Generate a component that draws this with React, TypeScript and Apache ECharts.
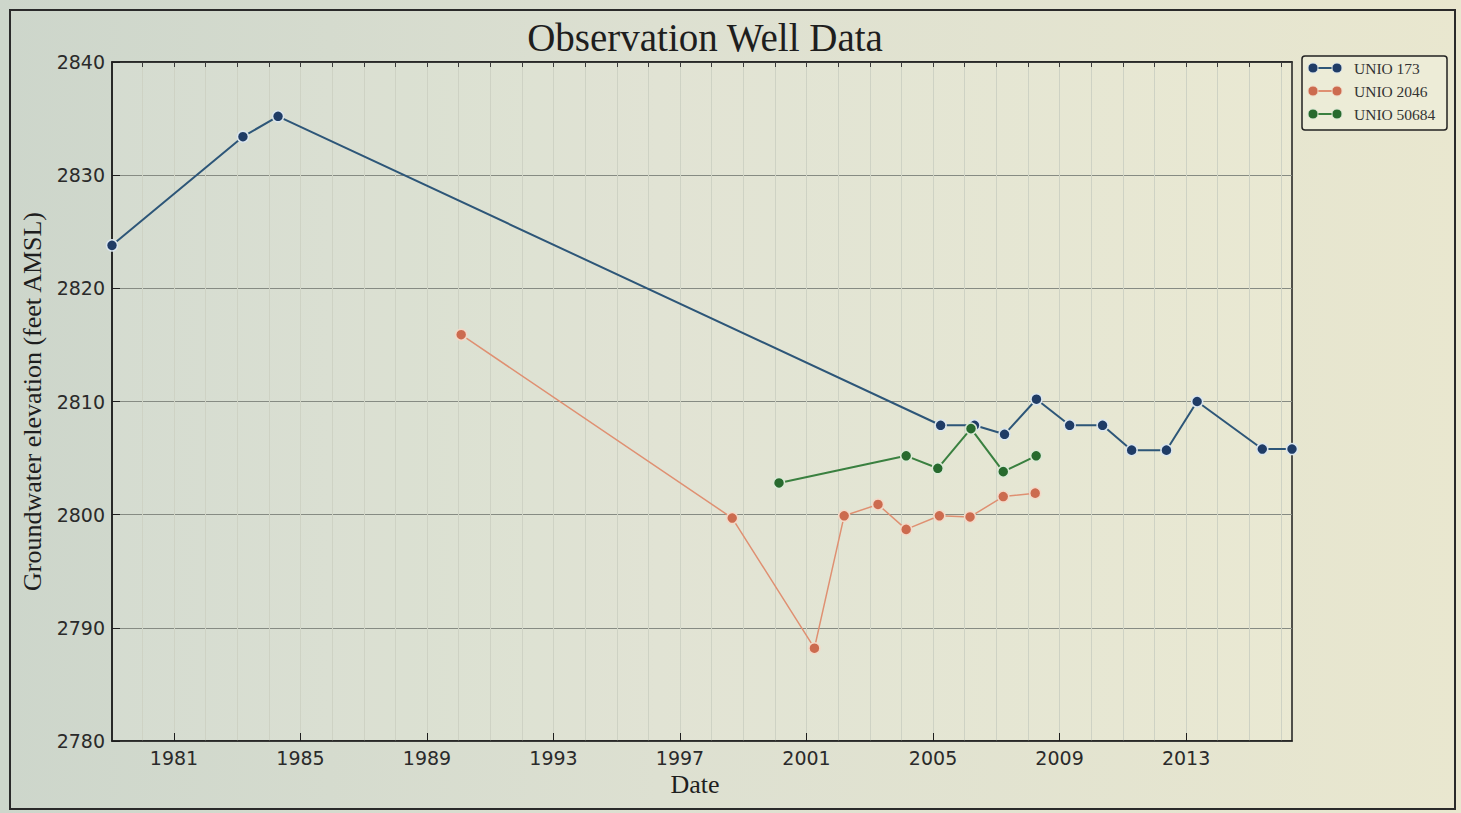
import React, { useEffect, useRef } from "react";
import * as echarts from "echarts";

// Decimal years
const unio173Dates = [1979.04, 1983.18, 1984.29, 2005.24, 2006.31, 2007.26, 2008.27, 2009.32, 2010.36, 2011.28, 2012.38, 2013.35, 2015.41, 2016.35];
const unio173Values = [2823.8, 2833.4, 2835.2, 2807.9, 2807.9, 2807.1, 2810.2, 2807.9, 2807.9, 2805.7, 2805.7, 2810.0, 2805.8, 2805.8];

const unio2046Dates = [1990.08, 1998.65, 2001.25, 2002.19, 2003.26, 2004.15, 2005.2, 2006.17, 2007.22, 2008.23];
const unio2046Values = [2815.9, 2799.7, 2788.2, 2799.9, 2800.9, 2798.7, 2799.9, 2799.8, 2801.6, 2801.9];

const unio50684Dates = [2000.13, 2004.15, 2005.15, 2006.2, 2007.22, 2008.26];
const unio50684Values = [2802.8, 2805.2, 2804.1, 2807.6, 2803.8, 2805.2];

const majorYearTicks = [1981, 1985, 1989, 1993, 1997, 2001, 2005, 2009, 2013];
const minorYearTicks = [1980, 1981, 1982, 1983, 1984, 1985, 1986, 1987, 1988, 1989, 1990, 1991, 1992, 1993, 1994, 1995, 1996, 1997, 1998, 1999, 2000, 2001, 2002, 2003, 2004, 2005, 2006, 2007, 2008, 2009, 2010, 2011, 2012, 2013, 2014, 2015, 2016];

const seriesNames = ["UNIO 173", "UNIO 2046", "UNIO 50684"];

const SERIF = "'Liberation Serif', 'DejaVu Serif', serif";
const SANS = "'DejaVu Sans', sans-serif";

function pairs(xs: number[], ys: number[]) {
  return xs.map((x, i) => [x, ys[i]]);
}

export default function App() {
  const ref = useRef<HTMLDivElement>(null);

  useEffect(() => {
    if (!ref.current) return;
    const chart = echarts.init(ref.current, null, { renderer: "svg" });

    const styles = [
      { line: "#2d5678", width: 2, fill: "#1f3c66", border: "#dbe6ee" },
      { line: "#df9072", width: 1.5, fill: "#cc6b4f", border: "#f3d9c8" },
      { line: "#3a8040", width: 2, fill: "#276a2e", border: "#dbe9d6" },
    ];
    const dataSets = [
      pairs(unio173Dates, unio173Values),
      pairs(unio2046Dates, unio2046Values),
      pairs(unio50684Dates, unio50684Values),
    ];

    const legendX = 1302;
    const legendY = 56;
    const legendItems: any[] = [
      {
        type: "rect",
        shape: { x: legendX, y: legendY, width: 145, height: 74, r: 3 },
        style: { fill: "rgba(245,245,230,0.35)", stroke: "#222", lineWidth: 1.5 },
        z: 100,
      },
    ];
    seriesNames.forEach((name, i) => {
      const cy = legendY + 12 + i * 23;
      const s = styles[i];
      legendItems.push(
        { type: "line", shape: { x1: 1313, y1: cy, x2: 1337, y2: cy }, style: { stroke: s.line, lineWidth: 2 }, z: 101 },
        { type: "circle", shape: { cx: 1313, cy, r: 5 }, style: { fill: s.fill, stroke: s.border, lineWidth: 1 }, z: 102 },
        { type: "circle", shape: { cx: 1337, cy, r: 5 }, style: { fill: s.fill, stroke: s.border, lineWidth: 1 }, z: 102 },
        {
          type: "text",
          x: 1354,
          y: cy,
          style: { text: name, fontFamily: SERIF, fontSize: 15.5, fill: "#333", verticalAlign: "middle", align: "left" },
          z: 102,
        }
      );
    });

    const option: any = {
      animation: false,
      title: {
        text: "Observation Well Data",
        left: 700,
        top: 13,
        textAlign: "center",
        textStyle: { fontFamily: SERIF, fontSize: 39, fontWeight: "normal", color: "#1e1e1e" },
      },
      grid: {
        left: 112,
        right: 169,
        top: 62,
        bottom: 72,
        show: true,
        backgroundColor: "rgba(255,255,240,0.12)",
        borderColor: "#1e1e1e",
        borderWidth: 1.5,
      },
      xAxis: [
        {
          type: "value",
          min: 1979.04,
          max: 2016.35,
          position: "bottom",
          name: "Date",
          nameLocation: "middle",
          nameGap: 30,
          nameTextStyle: { fontFamily: SERIF, fontSize: 26, color: "#1e1e1e", padding: [0, 14, 0, 0] },
          axisLine: { show: true, lineStyle: { color: "#1e1e1e", width: 1.5 } },
          axisTick: { show: true, inside: true, length: 8, customValues: majorYearTicks, lineStyle: { color: "#1e1e1e" } },
          axisLabel: {
            customValues: majorYearTicks,
            margin: 7,
            fontFamily: SANS,
            fontSize: 19,
            color: "#2a2a2a",
            formatter: (v: number) => String(Math.round(v)),
          },
          splitLine: { show: true, lineStyle: { color: "#868b83", width: 1 } },
        },
        {
          type: "value",
          min: 1979.04,
          max: 2016.35,
          position: "top",
          axisLine: { show: true, lineStyle: { color: "#1e1e1e", width: 1.5 } },
          axisTick: { show: true, inside: true, length: 5, customValues: minorYearTicks, lineStyle: { color: "#3a3a3a" } },
          axisLabel: { show: false, customValues: minorYearTicks },
          splitLine: { show: true, lineStyle: { color: "#ced2c4", width: 1 } },
        },
      ],
      yAxis: {
        type: "value",
        min: 2780,
        max: 2840,
        interval: 10,
        name: "Groundwater elevation (feet AMSL)",
        nameLocation: "middle",
        nameGap: 66,
        nameTextStyle: { fontFamily: SERIF, fontSize: 26, color: "#1e1e1e" },
        axisLine: { show: true, lineStyle: { color: "#1e1e1e", width: 1.5 } },
        axisTick: { show: true, inside: true, length: 8, lineStyle: { color: "#1e1e1e" } },
        axisLabel: {
          margin: 7,
          fontFamily: SANS,
          fontSize: 19,
          color: "#2a2a2a",
          formatter: (v: number) => String(v),
        },
        splitLine: { show: true, lineStyle: { color: "#868b83", width: 1 } },
      },
      series: seriesNames.map((name, i) => ({
        name,
        type: "line",
        xAxisIndex: 0,
        data: dataSets[i],
        symbol: "circle",
        symbolSize: 11,
        showAllSymbol: true,
        lineStyle: { color: styles[i].line, width: styles[i].width },
        itemStyle: { color: styles[i].fill, borderColor: styles[i].border, borderWidth: 1.5 },
        z: 3 + i,
      })),
      graphic: [
        {
          type: "rect",
          shape: { x: 10, y: 10, width: 1445, height: 799 },
          style: { fill: "none", stroke: "#2a2a2a", lineWidth: 2 },
          silent: true,
          z: -1,
        },
        ...legendItems,
      ],
    };

    chart.setOption(option);
    return () => chart.dispose();
  }, []);

  return (
    <div
      style={{
        position: "fixed",
        left: 0,
        top: 0,
        width: 1461,
        height: 813,
        background: "linear-gradient(to right, #cdd6cb 0%, #dde0d1 45%, #e9e7cf 100%)",
      }}
    >
      <div ref={ref} style={{ width: 1461, height: 813 }} />
    </div>
  );
}
